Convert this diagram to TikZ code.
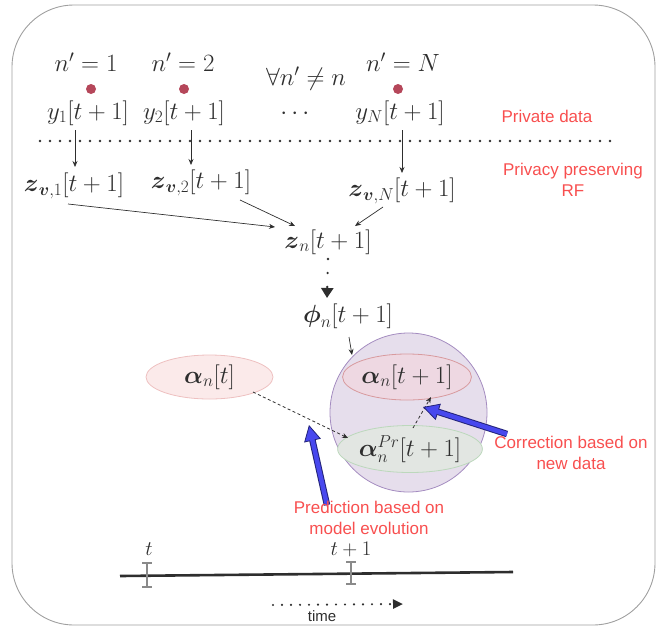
\documentclass[tikz,border=0pt]{standalone}
\usepackage{amsmath,amssymb}
\usepackage{fontspec}
\setsansfont{Liberation Sans}
\usetikzlibrary{arrows.meta,shapes.geometric}
\definecolor{txtgray}{HTML}{2E2E2E}
\definecolor{redlbl}{HTML}{F84F4F}
\definecolor{dotred}{HTML}{B5475A}
\definecolor{framegray}{HTML}{A0A0A0}
\definecolor{lavfill}{HTML}{E6DEEC}
\definecolor{lavdraw}{HTML}{A48CC0}
\definecolor{pinkfill}{HTML}{EED8E2}
\definecolor{pinkdraw}{HTML}{D89A9E}
\definecolor{lpinkfill}{HTML}{FBEAEA}
\definecolor{lpinkdraw}{HTML}{EEC0C0}
\definecolor{greenfill}{HTML}{E2E6E2}
\definecolor{greendraw}{HTML}{BCD8BC}
\definecolor{bluearr}{HTML}{4848EE}
\definecolor{bluedark}{HTML}{23237A}
\definecolor{tickgray}{HTML}{8A8A8A}
\tikzset{
  mtxt/.style={font=\fontsize{23}{27}\selectfont, text=txtgray, inner sep=1pt},
  bigm/.style={font=\fontsize{25}{29}\selectfont, text=txtgray, inner sep=1pt},
  small/.style={font=\fontsize{20}{24}\selectfont, text=txtgray, inner sep=1pt},
  lbl/.style={font=\sffamily\fontsize{17}{20.5}\selectfont, text=redlbl, align=center, inner sep=1pt},
  conn/.style={-{Stealth[length=6pt,width=5pt]}, draw=txtgray, line width=0.7pt},
  dotsline/.style={line cap=round, dash pattern=on 0pt off 10pt, line width=2.6pt, draw=txtgray},
  dashconn/.style={-{Stealth[length=6pt,width=5pt]}, draw=txtgray, line width=0.8pt, dash pattern=on 3pt off 2.5pt},
  bigblue/.style={-{Triangle[length=16pt,width=17pt,fill=bluearr,line width=0.8pt]}, draw=bluedark, line width=6.5pt},
  bigbluein/.style={draw=bluearr, line width=4.5pt, shorten >=14pt},
  agent/.style={circle, fill=dotred, minimum size=10pt, inner sep=0pt},
  ell/.style={ellipse, inner sep=0pt, line width=0.8pt, font=\fontsize{23}{27}\selectfont, text=txtgray},
  tick/.style={draw=tickgray, line width=1.2pt}
}
\begin{document}
\begin{tikzpicture}[x=1pt,y=-1pt]
\useasboundingbox (0,0) rectangle (660,629);
% frame
\draw[framegray, line width=0.9pt, rounded corners=62pt] (12,5) rectangle (655,625);

% top row
\node[bigm] (n1) at (86,62) {$n'=1$};
\node[bigm] (n2) at (183,62) {$n'=2$};
\node[bigm] (nall) at (306,79) {$\forall n'\neq n$};
\node[bigm] (nN) at (403,62) {$n'=N$};
\node[agent] (a1) at (91,89) {};
\node[agent] (a2) at (184,89) {};
\node[agent] (aN) at (398,89) {};

\node[mtxt] (y1) at (88,113) {$y_1[t+1]$};
\node[mtxt] (y2) at (184,113) {$y_2[t+1]$};
\node[mtxt] (ydots) at (297,114) {$\cdots$};
\node[mtxt] (yN) at (400,113) {$y_N[t+1]$};
\node[lbl] (priv) at (547,116) {Private data};

\coordinate (dl) at (40,141);
\coordinate (dr) at (620,141);
\draw[dotsline] (dl) -- (dr);

\node[mtxt] (zv1) at (74,186) {$\boldsymbol{z}_{\boldsymbol{v},1}[t+1]$};
\node[mtxt] (zv2) at (201,183) {$\boldsymbol{z}_{\boldsymbol{v},2}[t+1]$};
\node[mtxt] (zvN) at (402,191) {$\boldsymbol{z}_{\boldsymbol{v},N}[t+1]$};
\node[lbl] (rf) at (573,180) {Privacy preserving\\RF};

\draw[conn] ([shift={(-13,17)}]y1.center) -- ([shift={(1,-19)}]zv1.center);
\draw[conn] ([shift={(7,17)}]y2.center) -- ([shift={(-10,-18)}]zv2.center);
\draw[conn] ([shift={(2,17)}]yN.center) -- ([shift={(0,-18)}]zvN.center);

\node[mtxt] (zn) at (328,242) {$\boldsymbol{z}_n[t+1]$};
\draw[conn] ([shift={(-6,18)}]zv1.center) -- ([shift={(-53,-15)}]zn.center);
\draw[conn] ([shift={(39,17)}]zv2.center) -- ([shift={(-33,-16)}]zn.center);
\draw[conn] ([shift={(-19,16)}]zvN.center) -- ([shift={(27,-16)}]zn.center);

\node[mtxt] (phi) at (348,316) {$\boldsymbol{\phi}_n[t+1]$};
\draw[line cap=round, dash pattern=on 0pt off 14pt, line width=2.6pt, draw=txtgray, -{Triangle[length=10pt,width=12pt]}] ([shift={(0,17)}]zn.center) -- ([shift={(-21,-18)}]phi.center);

% big circle and ellipses
\node[ellipse, minimum width=157pt, minimum height=159pt, fill=lavfill, draw=lavdraw, line width=0.8pt] (belief) at (408.5,412.5) {};
\node[ell, minimum width=127pt, minimum height=46pt, fill=pinkfill, draw=pinkdraw] (anext) at (407,377) {$\boldsymbol{\alpha}_n[t+1]$};
\node[ell, minimum width=135pt, minimum height=47pt, fill=greenfill, draw=greendraw] (apr) at (410,449) {\raisebox{3pt}{$\boldsymbol{\alpha}_n^{Pr}[t+1]$}};
\node[ell, minimum width=127pt, minimum height=44pt, fill=lpinkfill, draw=lpinkdraw] (aprev) at (209.5,377) {$\boldsymbol{\alpha}_n[t]$};

\draw[conn] ([shift={(1,21)}]phi.center) -- ([shift={(-56.5,-57.5)}]belief.center);
\draw[dashconn] ([shift={(43.5,15)}]aprev.center) -- ([shift={(-62,-11)}]apr.center);
\draw[dashconn] ([shift={(3,-21)}]apr.center) -- ([shift={(24,20)}]anext.center);

% blue arrows
\coordinate (predtail) at (327,505);
\coordinate (predtip) at (309,425);
\coordinate (corrtail) at (507,434);
\coordinate (corrtip) at (423,407);
\draw[bigblue] (predtail) -- (predtip);
\draw[bigbluein] (predtail) -- (predtip);
\draw[bigblue] (corrtail) -- (corrtip);
\draw[bigbluein] (corrtail) -- (corrtip);

\node[lbl] (predl) at (369,518) {Prediction based on\\model evolution};
\node[lbl] (corrl) at (571,453) {Correction based on\\new data};

% timeline
\coordinate (tl) at (120,576);
\coordinate (tr) at (513,572);
\draw[txtgray, line width=2.6pt] (tl) -- (tr);
\draw[tick] (147,563) -- (147,587) (142,563) -- (152,563) (142,587) -- (152,587);
\draw[tick] (351,562) -- (351,584) (346,562) -- (356,562) (346,584) -- (356,584);
\node[small] (tlab) at (149,549) {$t$};
\node[small] (t1lab) at (351,549) {$t+1$};

\coordinate (timel) at (273,605);
\coordinate (timer) at (403,604);
\draw[line cap=round, dash pattern=on 0pt off 9pt, line width=2.4pt, draw=txtgray, -{Triangle[length=10pt,width=9pt]}] (timel) -- (timer);
\node[font=\sffamily\fontsize{15}{18}\selectfont, text=txtgray, inner sep=1pt] (timelab) at (322,616) {time};
\end{tikzpicture}
\end{document}
